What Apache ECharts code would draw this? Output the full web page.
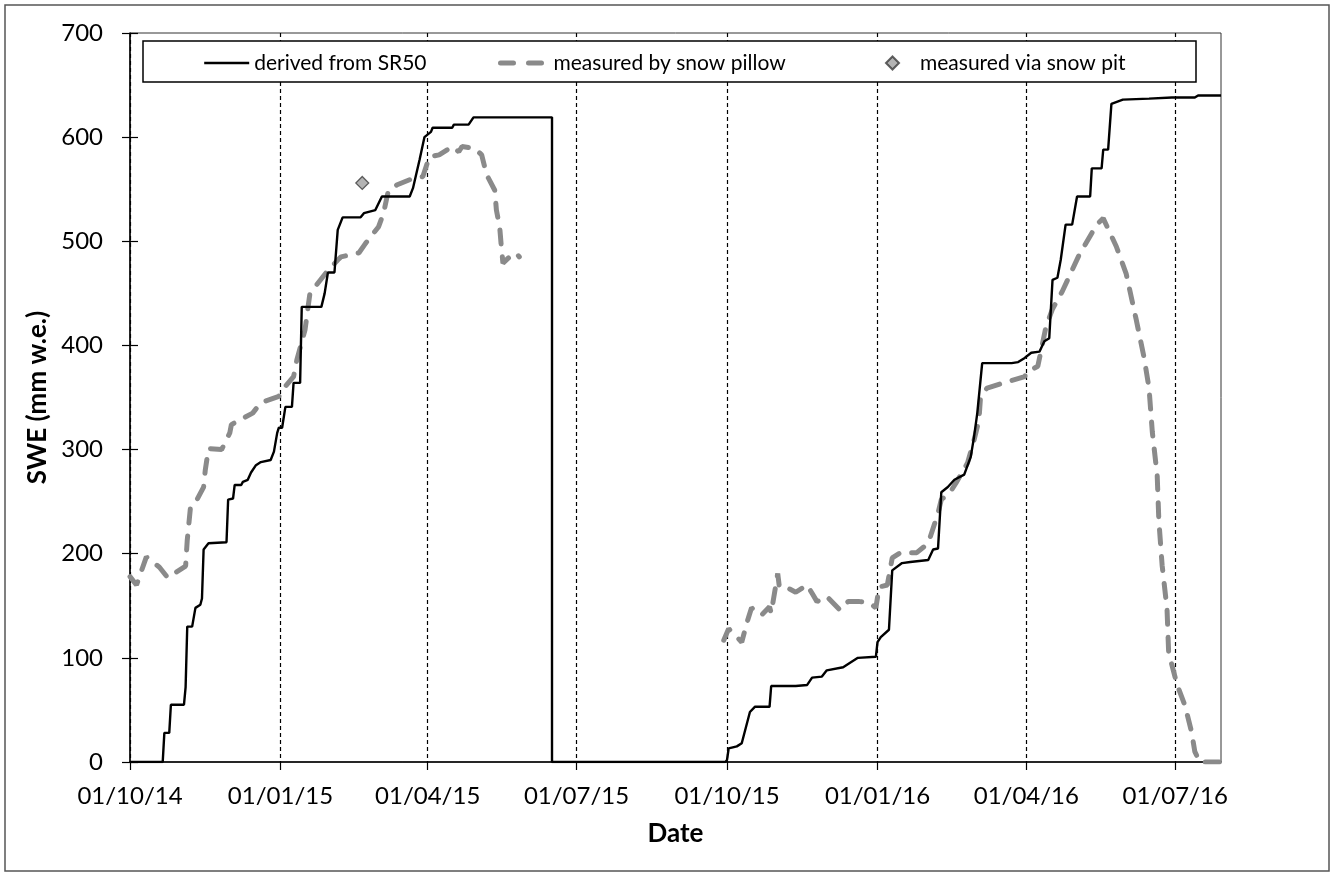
<!DOCTYPE html>
<html>
<head>
<meta charset="utf-8">
<script src="https://cdn.jsdelivr.net/npm/echarts@6/dist/echarts.min.js"></script>
<style>html,body{margin:0;padding:0;background:#fff}#c{width:1334px;height:873px}</style>
</head>
<body>
<div id="c"></div>
<script>
const tickDates = ['2014-10-01','2015-01-01','2015-04-01','2015-07-01','2015-10-01','2016-01-01','2016-04-01','2016-07-01'];
const xMin = '2014-10-01';
const xMax = '2016-07-29';
const yMin = 0, yMax = 700, yStep = 100;

const seriesNames = ['derived from SR50', 'measured by snow pillow', 'measured via snow pit'];

const sr50 = [
['2014-10-01',0],['2014-10-21',0],['2014-10-22',28],['2014-10-25',28],['2014-10-26',55],['2014-11-03',55],['2014-11-04',72],['2014-11-05',130],['2014-11-08',130],['2014-11-10',148],['2014-11-13',151],['2014-11-14',157],['2014-11-15',204],['2014-11-18',210],['2014-11-29',211],['2014-11-30',252],['2014-12-03',253],['2014-12-04',266],['2014-12-08',266],['2014-12-09',269],['2014-12-12',271],['2014-12-14',278],['2014-12-17',285],['2014-12-20',288],['2014-12-26',290],['2014-12-28',298],['2014-12-30',316],['2014-12-31',321],['2015-01-02',321],['2015-01-04',341],['2015-01-08',341],['2015-01-09',364],['2015-01-13',364],['2015-01-14',437],['2015-01-26',437],['2015-01-28',450],['2015-01-30',470],['2015-02-03',470],['2015-02-05',511],['2015-02-08',523],['2015-02-19',523],['2015-02-21',527],['2015-02-28',530],['2015-03-04',543],['2015-03-21',543],['2015-03-23',551],['2015-03-27',578],['2015-03-30',600],['2015-04-03',605],['2015-04-04',609],['2015-04-16',609],['2015-04-17',612],['2015-04-26',612],['2015-04-29',619],['2015-06-16',619],['2015-06-16',0],
['2015-09-30',0],['2015-10-01',2],['2015-10-02',13],['2015-10-07',15],['2015-10-10',18],['2015-10-15',48],['2015-10-18',53],['2015-10-27',53],['2015-10-28',73],['2015-11-12',73],['2015-11-19',74],['2015-11-22',81],['2015-11-28',82],['2015-12-01',88],['2015-12-11',91],['2015-12-15',95],['2015-12-20',100],['2015-12-31',101],['2016-01-01',115],['2016-01-03',120],['2016-01-08',127],['2016-01-10',184],['2016-01-16',191],['2016-01-21',192],['2016-02-01',194],['2016-02-04',204],['2016-02-07',205],['2016-02-09',259],['2016-02-13',264],['2016-02-17',271],['2016-02-23',276],['2016-02-27',293],['2016-02-29',312],['2016-03-02',335],['2016-03-05',383],['2016-03-23',383],['2016-03-27',384],['2016-03-31',388],['2016-04-04',393],['2016-04-09',394],['2016-04-12',404],['2016-04-15',407],['2016-04-17',463],['2016-04-20',465],['2016-04-22',482],['2016-04-25',516],['2016-04-29',516],['2016-05-02',543],['2016-05-10',543],['2016-05-11',570],['2016-05-17',570],['2016-05-18',588],['2016-05-21',588],['2016-05-23',632],['2016-05-30',636],['2016-06-15',637],['2016-06-29',638],['2016-07-13',638],['2016-07-15',640],['2016-07-29',640]
];

const pillow = [
['2014-10-01',178],['2014-10-05',170],['2014-10-11',197],['2014-10-19',187],['2014-10-24',177],['2014-10-30',183],['2014-11-04',188],['2014-11-05',213],['2014-11-07',245],['2014-11-11',252],['2014-11-15',264],['2014-11-16',280],['2014-11-18',301],['2014-11-26',300],['2014-12-01',316],['2014-12-02',324],['2014-12-15',335],['2014-12-20',345],['2014-12-31',351],['2015-01-02',357],['2015-01-09',370],['2015-01-11',386],['2015-01-16',415],['2015-01-19',450],['2015-01-29',470],['2015-02-05',482],['2015-02-07',485],['2015-02-18',489],['2015-02-22',498],['2015-03-02',514],['2015-03-05',527],['2015-03-08',549],['2015-03-13',554],['2015-03-24',561],['2015-03-29',562],['2015-04-02',581],['2015-04-08',583],['2015-04-16',591],['2015-04-20',586],['2015-04-22',591],['2015-04-30',589],['2015-05-04',583],['2015-05-07',564],['2015-05-12',549],['2015-05-13',530],['2015-05-15',514],['2015-05-16',495],['2015-05-17',479],['2015-05-21',485],['2015-05-25',489],['2015-05-27',485],
['2015-07-15','-'],
['2015-09-29',117],['2015-10-02',128],['2015-10-07',120],['2015-10-10',115],['2015-10-13',133],['2015-10-16',148],['2015-10-22',141],['2015-10-27',149],['2015-10-28',143],['2015-11-01',181],['2015-11-02',168],['2015-11-06',168],['2015-11-12',163],['2015-11-19',170],['2015-11-22',162],['2015-11-25',154],['2015-12-01',159],['2015-12-09',146],['2015-12-14',154],['2015-12-21',154],['2015-12-27',153],['2015-12-31',148],['2016-01-02',168],['2016-01-07',170],['2016-01-10',196],['2016-01-15',201],['2016-01-25',201],['2016-02-01',210],['2016-02-07',239],['2016-02-09',252],['2016-02-14',258],['2016-02-18',268],['2016-02-25',287],['2016-02-29',309],['2016-03-03',328],['2016-03-04',351],['2016-03-08',359],['2016-03-20',365],['2016-03-31',370],['2016-04-01',374],['2016-04-08',380],['2016-04-13',418],['2016-04-17',435],['2016-04-23',452],['2016-05-03',486],['2016-05-14',516],['2016-05-18',522],['2016-05-26',495],['2016-06-01',469],['2016-06-07',426],['2016-06-12',388],['2016-06-15',359],['2016-06-17',317],['2016-06-20',275],['2016-06-21',232],['2016-06-23',189],['2016-06-26',147],['2016-06-27',105],['2016-07-02',75],['2016-07-07',54],['2016-07-11',29],['2016-07-13',10],['2016-07-16',0],['2016-07-29',0]
];

const snowPit = [['2015-02-20',556]];

const FONT = 'Lato';
function pad(n){return (n<10?'0':'')+n;}
function toTs(s){const p=s.split('-');return new Date(+p[0], +p[1]-1, +p[2]).getTime();}
function fmtDate(v){const d=new Date(v);return pad(d.getDate())+'/'+pad(d.getMonth()+1)+'/'+String(d.getFullYear()).slice(2);}
function conv(arr){return arr.map(function(p){return [toTs(p[0]), p[1]];});}
const tickTs = tickDates.map(toTs);

const chart = echarts.init(document.getElementById('c'), null, {renderer:'canvas'});
const legendText = {fontFamily: FONT, fontSize: 21, color: '#000', lineHeight: 24};
const legendBase = {top: 46, itemHeight: 13, itemGap: 0, selectedMode: false, z: 10};

chart.setOption({
  backgroundColor: '#fff',
  animation: false,
  grid: {left: 130, right: 113, top: 33, bottom: 111, show: true, borderColor: '#333', borderWidth: 1, backgroundColor: 'transparent'},
  legend: [
    Object.assign({}, legendBase, {left: 198, itemWidth: 45, data: [seriesNames[0]], itemStyle: {opacity: 0},
      lineStyle: {width: 2.4, color: '#000'}, textStyle: legendText}),
    Object.assign({}, legendBase, {left: 493, itemWidth: 48, data: [seriesNames[1]], itemStyle: {opacity: 0},
      lineStyle: {width: 5, color: '#8a8a8a', type: [13, 15], cap: 'round'}, textStyle: legendText}),
    Object.assign({}, legendBase, {left: 880, itemWidth: 13, data: [seriesNames[2]],
      textStyle: Object.assign({}, legendText, {padding: [0, 0, 0, 16]})})
  ],
  graphic: [
    {type: 'rect', silent: true, z: 0, shape: {x: 5, y: 5, width: 1324, height: 866}, style: {fill: 'none', stroke: '#555', lineWidth: 1.5}},
    {type: 'rect', silent: true, z: 3, shape: {x: 143, y: 41, width: 1053, height: 41}, style: {fill: '#fff', stroke: '#000', lineWidth: 1.5}}
  ],
  xAxis: {
    type: 'value', min: toTs(xMin), max: toTs(xMax),
    name: 'Date', nameLocation: 'middle', nameGap: 59,
    nameTextStyle: {fontFamily: FONT, fontSize: 26, fontWeight: 'bold', color: '#000'},
    axisLine: {lineStyle: {color: '#000', width: 1.5}},
    axisTick: {show: true, length: 8, inside: false, lineStyle: {color: '#000', width: 1.2}, customValues: tickTs},
    axisLabel: {customValues: tickTs, formatter: fmtDate, margin: 22, fontFamily: FONT, fontSize: 24, color: '#000', hideOverlap: false},
    splitLine: {show: true, lineStyle: {color: '#000', width: 1.2, type: [4, 3]}}
  },
  yAxis: [
    {
      type: 'value', min: yMin, max: yMax, interval: yStep, position: 'left',
      name: 'SWE (mm w.e.)', nameLocation: 'middle', nameGap: 76, nameRotate: 90,
      nameTextStyle: {fontFamily: FONT, fontSize: 26, fontWeight: 'bold', color: '#000'},
      axisLine: {show: true, lineStyle: {color: '#000', width: 1.5}},
      axisTick: {show: true, length: 8, inside: false, lineStyle: {color: '#000', width: 1.2}},
      axisLabel: {margin: 27, fontFamily: FONT, fontSize: 24, color: '#000'},
      splitLine: {show: false}
    },
    {
      type: 'value', min: yMin, max: yMax, interval: yStep, position: 'left',
      axisLine: {show: false},
      axisTick: {show: true, length: 8, inside: true, lineStyle: {color: '#000', width: 1.2}},
      axisLabel: {show: false},
      splitLine: {show: false}
    }
  ],
  series: [
    {name: seriesNames[0], type: 'line', data: conv(sr50), symbol: 'none', z: 2,
      lineStyle: {color: '#000', width: 2.4}, itemStyle: {color: '#000'}},
    {name: seriesNames[1], type: 'line', data: conv(pillow), symbol: 'none', connectNulls: false, z: 1,
      lineStyle: {color: '#8a8a8a', width: 5, type: [14, 13], cap: 'round'}, itemStyle: {color: '#8a8a8a'}},
    {name: seriesNames[2], type: 'scatter', data: conv(snowPit), symbol: 'diamond', symbolSize: 13, z: 2,
      itemStyle: {color: '#a0a0a0', borderColor: '#3a3a3a', borderWidth: 1.2}}
  ]
});
</script>
</body>
</html>
